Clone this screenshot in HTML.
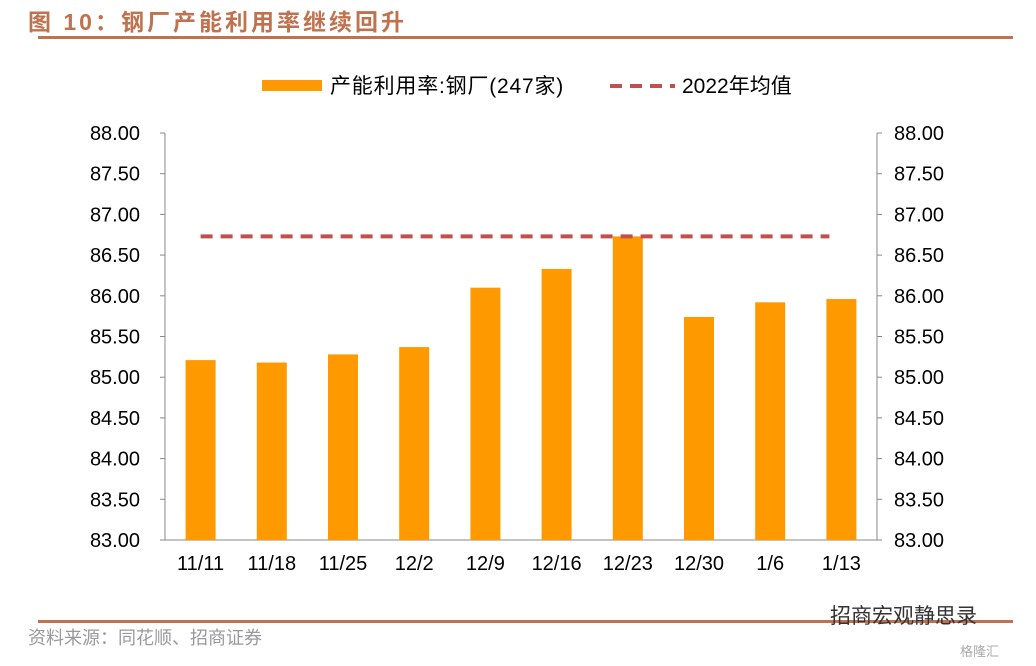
<!DOCTYPE html>
<html><head><meta charset="utf-8"><style>
body{margin:0;background:#fff;width:1036px;height:661px;overflow:hidden;font-family:"Liberation Sans","Noto Sans CJK SC",sans-serif}
</style></head><body>
<svg width="1036" height="661" xmlns="http://www.w3.org/2000/svg">
<text x="28" y="30" font-size="23" font-weight="bold" fill="#c0714e" letter-spacing="3" font-family="'Liberation Sans','Noto Sans CJK SC',sans-serif">图 10：钢厂产能利用率继续回升</text>
<rect x="38" y="36" width="975" height="3" fill="#c0714e"/>
<g>
<rect x="262" y="80" width="60" height="11" fill="#ff9900"/>
<text x="330" y="93" font-size="21" letter-spacing="0.8" fill="#000">产能利用率:钢厂(247家)</text>
<line x1="610" y1="86" x2="675" y2="86" stroke="#c0504d" stroke-width="4" stroke-dasharray="12,8"/>
<text x="682" y="93" font-size="21" fill="#000">2022年均值</text>
</g>
<g id="plot"></g>
<rect x="38" y="620" width="975" height="3" fill="#c0714e"/>
<text x="28" y="644" font-size="18" fill="#999">资料来源：同花顺、招商证券</text>
<text x="830" y="623" font-size="21" fill="#333">招商宏观静思录</text>
<text x="960" y="656" font-size="13" fill="#aaa">格隆汇</text>
</svg>
<script>
const categories=["11/11","11/18","11/25","12/2","12/9","12/16","12/23","12/30","1/6","1/13"];
const values=[85.21,85.18,85.28,85.37,86.10,86.33,86.73,85.74,85.92,85.96];
const avg2022=[86.73];
const ticks=[83,83.5,84,84.5,85,85.5,86,86.5,87,87.5,88];
const NS="http://www.w3.org/2000/svg";
const g=document.getElementById('plot');
const X0=165,X1=877,Y0=540,Y1=133,ymin=83,ymax=88;
const y=v=>Y0-(v-ymin)/(ymax-ymin)*(Y0-Y1);
const band=(X1-X0)/categories.length;
const x=i=>X0+band*(i+0.5);
function mk(t,a){const e=document.createElementNS(NS,t);for(const k in a)e.setAttribute(k,a[k]);g.appendChild(e);return e;}
let e;
e=mk('line',{x1:X0,y1:Y1,x2:X0,y2:Y0,stroke:'#888','stroke-width':1});


e=mk('line',{x1:X1,y1:Y1,x2:X1,y2:Y0,stroke:'#888','stroke-width':1});


e=mk('line',{x1:X0,y1:Y0,x2:X1,y2:Y0,stroke:'#888','stroke-width':1});


ticks.forEach(t=>{
 const yy=y(t);
 e=mk('line',{x1:X0-5,y1:yy,x2:X0,y2:yy,stroke:'#888'});
 
 
 e=mk('line',{x1:X1,y1:yy,x2:X1+5,y2:yy,stroke:'#888'});
 
 
 e=mk('text',{x:X0-25,y:yy+7,'font-size':20,'text-anchor':'end',fill:'#000'});e.textContent=t.toFixed(2);
 
 
 e=mk('text',{x:X1+17,y:yy+7,'font-size':20,fill:'#000'});e.textContent=t.toFixed(2);
 
 
});
const bw=30;
values.forEach((v,i)=>{
 e=mk('rect',{x:x(i)-bw/2,y:y(v),width:bw,height:Y0-y(v),fill:'#ff9900'});
 
 
 e=mk('text',{x:x(i),y:Y0+30,'font-size':20,'text-anchor':'middle',fill:'#000'});e.textContent=categories[i];
 
 
});
e=mk('line',{x1:x(0),y1:y(avg2022[0]),x2:x(categories.length-1)-12,y2:y(avg2022[0]),stroke:'#c0504d','stroke-width':4,'stroke-dasharray':'12,8'});


</script>
</body></html>
